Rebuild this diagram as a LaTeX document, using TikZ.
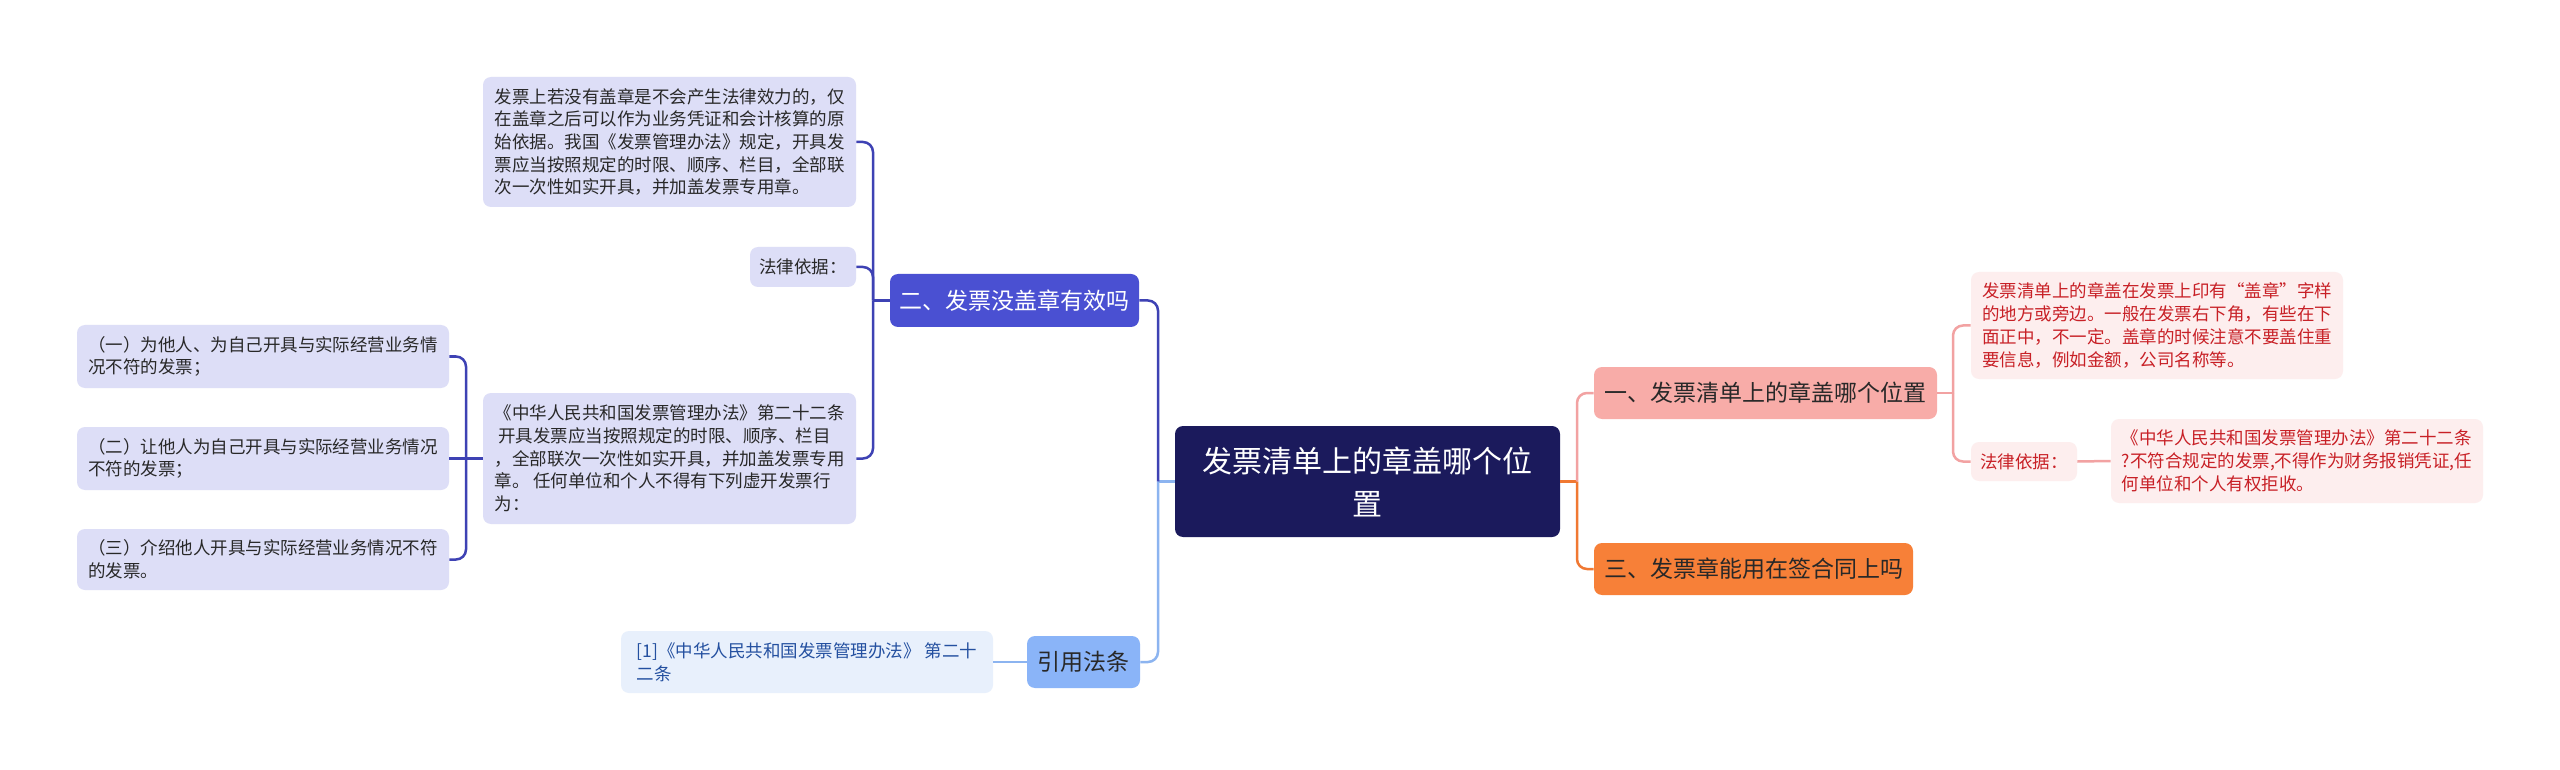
\documentclass[tikz,border=0pt]{standalone}
\usepackage{fontspec}
\setmainfont{Noto Sans CJK SC}
\definecolor{rootnavy}{RGB}{27,26,92}
\definecolor{pinkfill}{RGB}{248,172,168}
\definecolor{pinkline}{RGB}{242,162,162}
\definecolor{pinkleaf}{RGB}{253,238,238}
\definecolor{pinktext}{RGB}{200,32,38}
\definecolor{orangefill}{RGB}{247,128,56}
\definecolor{orangeline}{RGB}{240,120,50}
\definecolor{violetfill}{RGB}{74,80,210}
\definecolor{violetline}{RGB}{62,66,180}
\definecolor{lavleaf}{RGB}{221,222,247}
\definecolor{skyfill}{RGB}{138,180,248}
\definecolor{skyline}{RGB}{140,180,240}
\definecolor{skyleaf}{RGB}{232,240,252}
\definecolor{skytext}{RGB}{36,80,160}
\definecolor{darktext}{RGB}{40,40,40}
\begin{document}
\begin{tikzpicture}[x=0.5pt, y=-0.5pt,
        topic/.style={rectangle, rounded corners=4pt, fill=rootnavy, text=white, align=center, inner sep=0pt, font=\fontsize{15}{21.5}\selectfont},
        branch/.style={rectangle, rounded corners=4pt, inner sep=0pt, text=darktext, font=\fontsize{11.5}{14}\selectfont},
        leaf/.style={rectangle, rounded corners=4pt, inner xsep=3pt, inner ysep=0pt, align=left, text=darktext, font=\fontsize{8.75}{11.35}\selectfont},
        link/.style={draw, line width=1.25pt, rounded corners=5pt}
    ]
        \fill[white] (0,0) rectangle (2560,770);
        \useasboundingbox (0,0) rectangle (2560,770);

        % centre and main branches
        \node[topic, minimum width=192.5pt, minimum height=55.5pt] (root) at (1367.5,481.5) {发票清单上的章盖哪个位\\置};
        \node[branch, fill=pinkfill, minimum width=171.5pt, minimum height=26pt] (pos) at (1765.5,393) {一、发票清单上的章盖哪个位置};
        \node[branch, fill=orangefill, minimum width=159.5pt, minimum height=26pt] (contract) at (1753.5,569) {三、发票章能用在签合同上吗};
        \node[branch, fill=violetfill, text=white, minimum width=124.5pt, minimum height=26.5pt] (valid) at (1014.5,300.5) {二、发票没盖章有效吗};
        \node[branch, fill=skyfill, minimum width=56.5pt, minimum height=26pt] (cite) at (1083.5,662) {引用法条};

        % right side leaves
        \node[leaf, fill=pinkleaf, text=pinktext, minimum width=186pt, minimum height=53.5pt] (posinfo) at (2157,325.5) {发票清单上的章盖在发票上印有“盖章”字样\\的地方或旁边。一般在发票右下角，有些在下\\面正中，不一定。盖章的时候注意不要盖住重\\要信息，例如金额，公司名称等。};
        \node[leaf, fill=pinkleaf, text=pinktext, minimum width=53pt, minimum height=19.5pt] (poslaw) at (2024,461.5) {法律依据：};
        \node[leaf, fill=pinkleaf, text=pinktext, minimum width=186pt, minimum height=42pt] (poslawtxt) at (2297,461) {《中华人民共和国发票管理办法》第二十二条\\?不符合规定的发票,不得作为财务报销凭证,任\\何单位和个人有权拒收。};

        % left side leaves
        \node[leaf, fill=lavleaf, minimum width=186.5pt, minimum height=65pt] (nostamp) at (669.5,142) {发票上若没有盖章是不会产生法律效力的，仅\\在盖章之后可以作为业务凭证和会计核算的原\\始依据。我国《发票管理办法》规定，开具发\\票应当按照规定的时限、顺序、栏目，全部联\\次一次性如实开具，并加盖发票专用章。};
        \node[leaf, fill=lavleaf, minimum width=53pt, minimum height=20pt] (validlaw) at (803,267) {法律依据：};
        \node[leaf, fill=lavleaf, minimum width=186.5pt, minimum height=65.5pt] (article) at (669.5,458.5) {《中华人民共和国发票管理办法》第二十二条\\\ 开具发票应当按照规定的时限、顺序、栏目\\，全部联次一次性如实开具，并加盖发票专用\\章。\ 任何单位和个人不得有下列虚开发票行\\为：};
        \node[leaf, fill=lavleaf, minimum width=186pt, minimum height=31.5pt] (act1) at (263,356.5) {（一）为他人、为自己开具与实际经营业务情\\况不符的发票；};
        \node[leaf, fill=lavleaf, minimum width=186pt, minimum height=31.5pt] (act2) at (263,458.5) {（二）让他人为自己开具与实际经营业务情况\\不符的发票；};
        \node[leaf, fill=lavleaf, minimum width=186pt, minimum height=30.5pt] (act3) at (263,559.5) {（三）介绍他人开具与实际经营业务情况不符\\的发票。};
        \node[leaf, fill=skyleaf, text=skytext, minimum width=186pt, minimum height=31pt] (citeref) at (807,662) {[1]《中华人民共和国发票管理办法》 第二十\\二条};

        % junctions
        \coordinate (jr) at (1577,481.5);
        \coordinate (jpos) at (1953,393);
        \coordinate (jl) at (1158,481.5);
        \coordinate (jvalid) at (873,300.5);
        \coordinate (jart) at (466,458.5);

        \draw[link, orangeline] (root.east) -- (jr);
        \draw[link, pinkline] (jr) |- (pos.west);
        \draw[link, orangeline] (jr) |- (contract.west);
        \draw[link, pinkline] (pos.east) -- (jpos);
        \draw[link, pinkline] (jpos) |- (posinfo.west);
        \draw[link, pinkline] (jpos) |- (poslaw.west);
        \draw[link, pinkline] (poslaw.east) -- (poslawtxt.west);

        \draw[link, skyline] (root.west) -- (jl);
        \draw[link, violetline] (jl) |- (valid.east);
        \draw[link, skyline] (jl) |- (cite.east);
        \draw[link, skyline] (cite.west) -- (citeref.east);

        \draw[link, violetline] (valid.west) -- (jvalid);
        \draw[link, violetline] (jvalid) |- (nostamp.east);
        \draw[link, violetline] (jvalid) |- (validlaw.east);
        \draw[link, violetline] (jvalid) |- (article.east);

        \draw[link, violetline] (article.west) -- (act2.east);
        \draw[link, violetline] (jart) |- (act1.east);
        \draw[link, violetline] (jart) |- (act3.east);
    \end{tikzpicture}
\end{document}
